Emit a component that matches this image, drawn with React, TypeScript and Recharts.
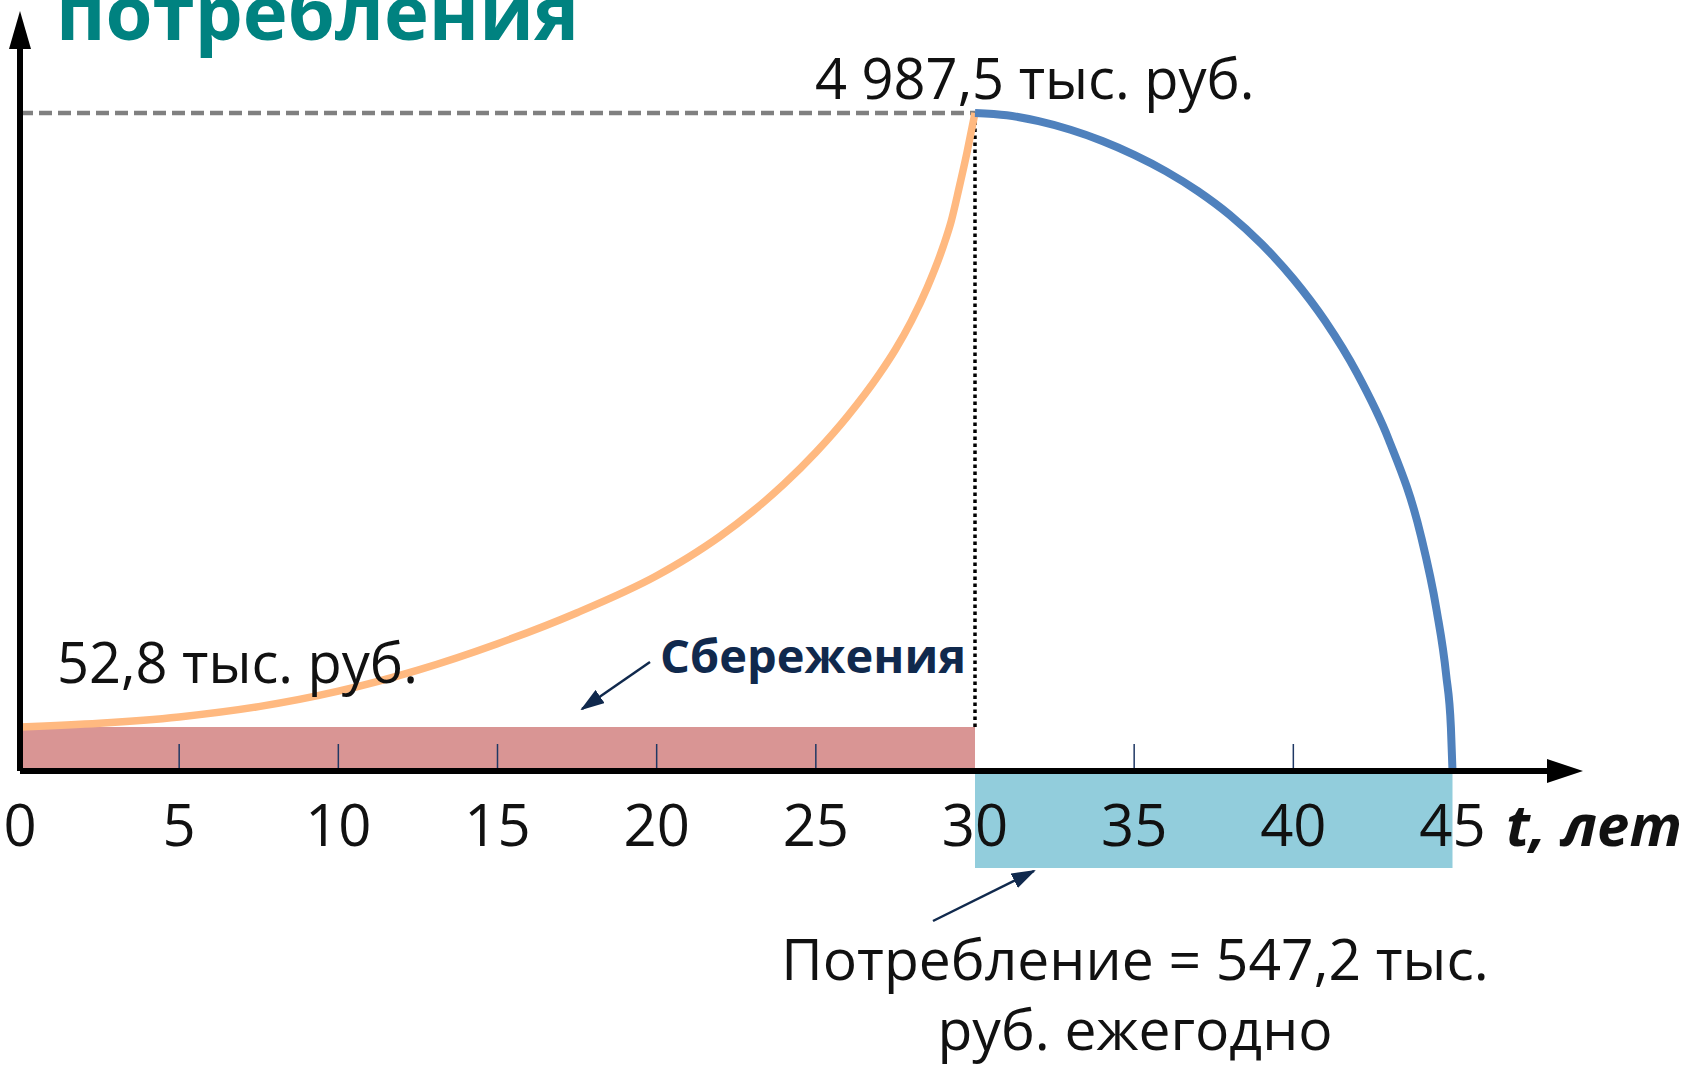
import { LineChart, Line, XAxis, YAxis, ReferenceArea, ReferenceLine, ReferenceDot } from "recharts";

// years on the horizontal axis, thousand rubles (as drawn) on the vertical one
const SAVINGS_YEARS = [0, 2.5, 5, 7.5, 10, 12.5, 15, 17.5, 20, 21, 22, 23, 24, 25, 26, 27, 27.5, 28, 28.5, 29, 29.25, 29.5, 29.75, 30];
const SAVINGS_VALUES = [334, 362, 410, 488, 605, 765, 965, 1200, 1480, 1620, 1780, 1965, 2175, 2415, 2690, 3010, 3195, 3410, 3665, 3975, 4165, 4420, 4690, 4987.5];

const DRAWDOWN_YEARS = [30, 31, 32, 33, 34, 35, 36, 37, 38, 39, 40, 41, 42, 43, 44, 44.5, 44.8, 44.95, 45];
const DRAWDOWN_VALUES = [4987.5, 4970, 4925, 4860, 4775, 4670, 4545, 4395, 4215, 3995, 3730, 3410, 3015, 2510, 1790, 1220, 730, 330, 0];

const SAVINGS_SPAN = [0, 30];
const SAVINGS_BAND = 333;
const CONSUMPTION_SPAN = [30, 45];
const CONSUMPTION_BAND = -735;
const PEAK = 4987.5;

const TICK_YEARS = [0, 5, 10, 15, 20, 25, 30, 35, 40, 45];
const MARKED_YEARS = [5, 10, 15, 20, 25, 35, 40];
const X_MAX = 48;
const Y_MAX = 5480;

const FONT = "'Open Sans', 'Noto Sans', sans-serif";
const NAVY = "#10294d";

const savingsData = SAVINGS_YEARS.map((year, i) => ({ year, value: SAVINGS_VALUES[i] }));
const drawdownData = DRAWDOWN_YEARS.map((year, i) => ({ year, value: DRAWDOWN_VALUES[i] }));

function YearTick({ x, y, payload }: any) {
  const v = payload.value;
  return (
    <g>
      {MARKED_YEARS.includes(v) && (
        <line x1={x} x2={x} y1={y - 3} y2={y - 27} stroke="#1f3864" strokeWidth={1.5} />
      )}
      <text x={x} y={y + 75} textAnchor="middle" fontSize={58} fontFamily={FONT} fill="#111">
        {v}
      </text>
    </g>
  );
}

const upArrow = (p: any) => (
  <polygon points={`${p.cx},${p.cy - 37} ${p.cx - 11},${p.cy + 1} ${p.cx + 11},${p.cy + 1}`} fill="#000" />
);
const rightArrow = (p: any) => (
  <polygon points={`${p.cx + 35},${p.cy} ${p.cx - 1},${p.cy - 12} ${p.cx - 1},${p.cy + 12}`} fill="#000" />
);

export default function App() {
  return (
    <div style={{ position: "absolute", left: 0, top: 0, width: 1689, height: 1070, background: "#fff" }}>
      <LineChart width={1689} height={1070} margin={{ top: 48, right: 141, bottom: 0, left: 0 }}>
        <XAxis
          type="number"
          dataKey="year"
          domain={[0, X_MAX]}
          allowDataOverflow
          ticks={TICK_YEARS}
          interval={0}
          height={299}
          tickLine={false}
          tickSize={0}
          tickMargin={0}
          tick={<YearTick />}
          axisLine={{ stroke: "#000", strokeWidth: 6 }}
        />
        <YAxis
          type="number"
          domain={[0, Y_MAX]}
          allowDataOverflow
          width={20}
          tick={false}
          tickLine={false}
          axisLine={{ stroke: "#000", strokeWidth: 6 }}
        />
        <ReferenceArea
          x1={SAVINGS_SPAN[0]}
          x2={SAVINGS_SPAN[1]}
          y1={0}
          y2={SAVINGS_BAND}
          fill="#d99594"
          fillOpacity={1}
          stroke="none"
          ifOverflow="visible"
        />
        <ReferenceArea
          x1={CONSUMPTION_SPAN[0]}
          x2={CONSUMPTION_SPAN[1]}
          y1={0}
          y2={CONSUMPTION_BAND}
          fill="#92cddc"
          fillOpacity={1}
          stroke="none"
          ifOverflow="visible"
        />
        <ReferenceLine
          segment={[{ x: 0, y: PEAK }, { x: SAVINGS_SPAN[1], y: PEAK }]}
          stroke="#808080"
          strokeWidth={4.5}
          strokeDasharray="13 6"
          ifOverflow="visible"
        />
        <ReferenceLine
          segment={[{ x: SAVINGS_SPAN[1], y: SAVINGS_BAND }, { x: SAVINGS_SPAN[1], y: PEAK }]}
          stroke="#000"
          strokeWidth={3.5}
          strokeDasharray="3.5 3.5"
          ifOverflow="visible"
        />
        <Line
          data={savingsData}
          dataKey="value"
          type="monotone"
          stroke="#ffb980"
          strokeWidth={7.5}
          dot={false}
          isAnimationActive={false}
        />
        <Line
          data={drawdownData}
          dataKey="value"
          type="monotone"
          stroke="#4f81bd"
          strokeWidth={8}
          dot={false}
          isAnimationActive={false}
        />
        <ReferenceDot x={0} y={Y_MAX} r={1} shape={upArrow} ifOverflow="visible" />
        <ReferenceDot x={X_MAX} y={0} r={1} shape={rightArrow} ifOverflow="visible" />
      </LineChart>

      {/* labels and pointer arrows */}
      <svg
        width={1689}
        height={1070}
        style={{ position: "absolute", left: 0, top: 0, pointerEvents: "none" }}
        fontFamily={FONT}
      >
        <defs>
          <marker id="navyHead" markerUnits="userSpaceOnUse" markerWidth={24} markerHeight={16} refX={22} refY={8} orient="auto">
            <polygon points="0,0 24,8 0,16" fill={NAVY} />
          </marker>
        </defs>
        <text x={56} y={40} fontSize={76} fontWeight={700} fill="#008280">
          потребления
        </text>
        <text x={815} y={99} fontSize={56} fill="#111">
          4 987,5 тыс. руб.
        </text>
        <text x={57} y={683} fontSize={56} fill="#111">
          52,8 тыс. руб.
        </text>
        <text x={660} y={673} fontSize={47} fontWeight={700} fill={NAVY}>
          Сбережения
        </text>
        <line x1={650} y1={662} x2={582} y2={709} stroke={NAVY} strokeWidth={2.5} markerEnd="url(#navyHead)" />
        <text x={1506} y={846} fontSize={58} fontWeight={700} fontStyle="italic" fill="#111">
          t, лет
        </text>
        <line x1={933} y1={921} x2={1034} y2={871} stroke={NAVY} strokeWidth={2.5} markerEnd="url(#navyHead)" />
        <text x={1135} y={980} fontSize={57} textAnchor="middle" fill="#111">
          Потребление = 547,2 тыс.
        </text>
        <text x={1135} y={1050} fontSize={57} textAnchor="middle" fill="#111">
          руб. ежегодно
        </text>
      </svg>
    </div>
  );
}
